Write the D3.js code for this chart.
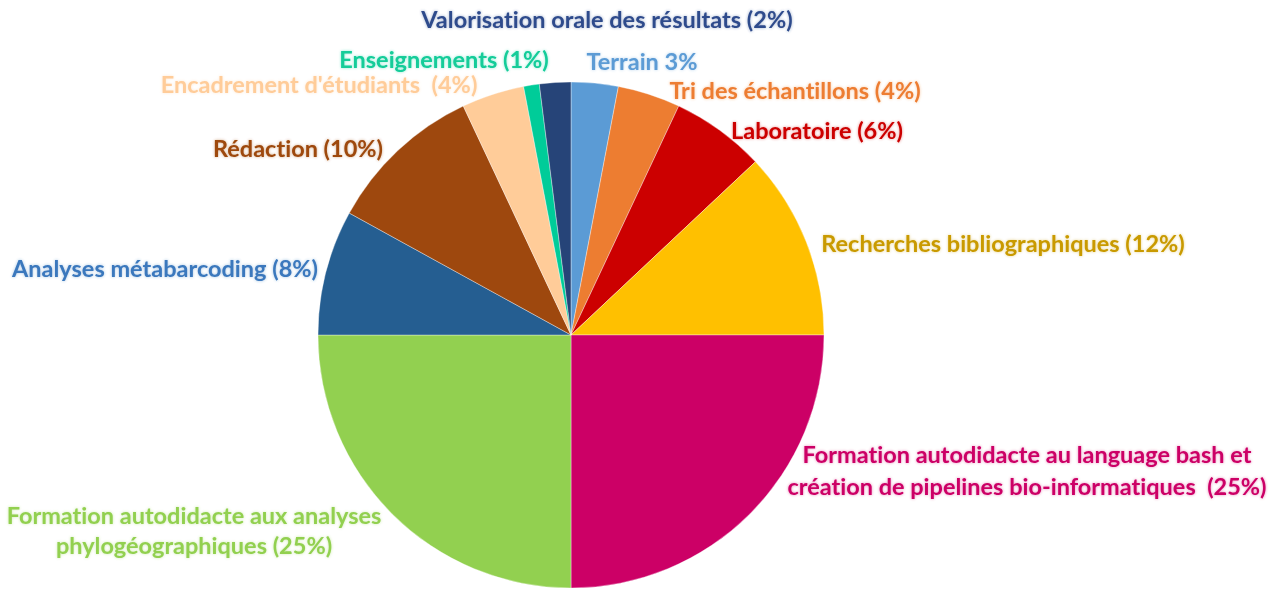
<!DOCTYPE html>
<html>
<head>
<meta charset="utf-8">
<script src="https://cdn.jsdelivr.net/npm/d3@7/dist/d3.min.js"></script>
<style>
  html, body { margin: 0; padding: 0; background: #fff; }
  svg { display: block; }
  .lbl { font-family: Lato, "Open Sans", sans-serif; font-weight: 700; font-size: 23.5px;
         white-space: pre; font-variant-ligatures: none; font-feature-settings: "liga" 0, "dlig" 0; }
</style>
</head>
<body>
<svg id="chart" width="1279" height="590"></svg>
<script>
// Répartition du temps de travail (%), dans l'ordre horaire depuis midi
const categories = [
  "Terrain", "Tri des échantillons", "Laboratoire", "Recherches bibliographiques",
  "Formation bash / pipelines", "Formation phylogéographie", "Analyses métabarcoding",
  "Rédaction", "Encadrement d'étudiants", "Enseignements", "Valorisation orale des résultats"
];
const values = [3, 4, 6, 12, 25, 25, 8, 10, 4, 1, 2];
const labelLines = [
  ["Terrain 3%"],
  ["Tri des échantillons (4%)"],
  ["Laboratoire (6%)"],
  ["Recherches bibliographiques (12%)"],
  ["Formation autodidacte au language bash et", "création de pipelines bio-informatiques  (25%)"],
  ["Formation autodidacte aux analyses", "phylogéographiques (25%)"],
  ["Analyses métabarcoding (8%)"],
  ["Rédaction (10%)"],
  ["Encadrement d'étudiants  (4%)"],
  ["Enseignements (1%)"],
  ["Valorisation orale des résultats (2%)"]
];

// Couleurs des parts et des étiquettes
const sliceColors = ["#5B9BD5", "#ED7D31", "#CC0000", "#FFC000", "#CC0066", "#92D050",
                     "#255E91", "#9E480E", "#FFCC99", "#00CC99", "#264478"];
const textColors  = ["#5B9BD5", "#ED7D31", "#CC0000", "#C99A05", "#CC0066", "#92D050",
                     "#3A78BD", "#9E480E", "#FFCC99", "#12CC99", "#2F4B8C"];

// Placement des étiquettes, relatif au centre du camembert : [dx, ligne de base, interligne]
const labelOffsets = [
  [71, -265, 0], [224, -236, 0], [246, -196, 0], [432, -83, 0],
  [456, 128, 32], [-377, 189, 30], [-406, -58, 0], [-273, -178, 0],
  [-252, -242, 0], [-127, -267, 0], [36, -307, 0]
];

const cx = 571, cy = 335, radius = 253;
const svg = d3.select("#chart");

// Halo léger autour du texte
const defs = svg.append("defs");
const glow = defs.append("filter").attr("id", "glow").attr("x", "-10%").attr("y", "-30%")
  .attr("width", "120%").attr("height", "160%");
glow.append("feGaussianBlur").attr("in", "SourceGraphic").attr("stdDeviation", 1.6).attr("result", "b");
glow.append("feComponentTransfer").attr("in", "b").attr("result", "bf")
  .append("feFuncA").attr("type", "linear").attr("slope", 0.45);
const merge = glow.append("feMerge");
merge.append("feMergeNode").attr("in", "bf");
merge.append("feMergeNode").attr("in", "SourceGraphic");

const data = categories.map((c, i) => ({ name: c, value: values[i], i }));

const pie = d3.pie().value(d => d.value).sort(null);
const arc = d3.arc().innerRadius(0).outerRadius(radius);

const g = svg.append("g").attr("transform", `translate(${cx},${cy})`);

g.selectAll("path.slice")
  .data(pie(data))
  .join("path")
  .attr("class", "slice")
  .attr("d", arc)
  .attr("fill", d => sliceColors[d.data.i])
  .attr("stroke", "rgba(255,255,255,0.45)")
  .attr("stroke-width", 0.8);

// Étiquettes
const labels = g.selectAll("text.lbl")
  .data(data)
  .join("text")
  .attr("class", "lbl")
  .attr("text-anchor", "middle")
  .attr("fill", d => textColors[d.i])
  .attr("filter", "url(#glow)");

labels.each(function(d) {
  const [dx, dy, lh] = labelOffsets[d.i];
  d3.select(this).selectAll("tspan")
    .data(labelLines[d.i])
    .join("tspan")
    .attr("x", dx)
    .attr("y", (t, k) => dy + k * lh)
    .text(t => t);
});
</script>
</body>
</html>
